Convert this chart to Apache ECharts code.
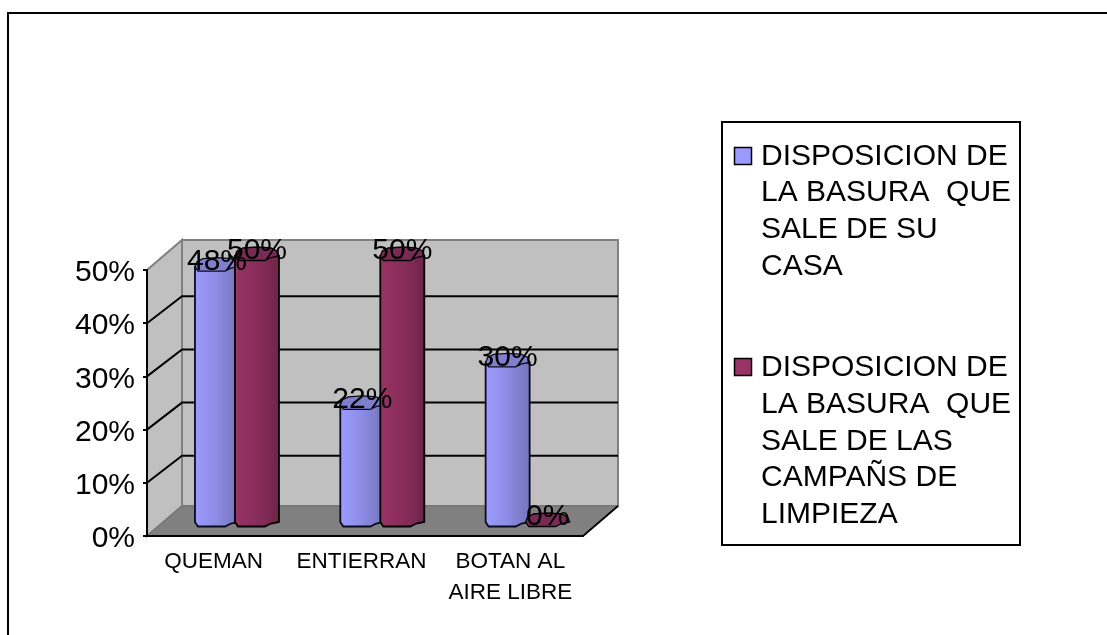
<!DOCTYPE html>
<html>
<head>
<meta charset="utf-8">
<style>html,body{margin:0;padding:0;background:#fff}#c{width:1107px;height:635px}</style>
<script src="https://cdn.jsdelivr.net/npm/echarts@6/dist/echarts.min.js"></script>
</head>
<body>
<div id="c"></div>
<script>
const categories = ['QUEMAN', 'ENTIERRAN', 'BOTAN AL\nAIRE LIBRE'];
const serieA = [0.48, 0.22, 0.30];
const serieB = [0.50, 0.50, 0.00];
const nombreA = 'DISPOSICION DE\nLA BASURA  QUE\nSALE DE SU\nCASA';
const nombreB = 'DISPOSICION DE\nLA BASURA  QUE\nSALE DE LAS\nCAMPAÑS DE\nLIMPIEZA';
const valueTicks = [0, 0.1, 0.2, 0.3, 0.4, 0.5];

const FONT = '"Liberation Sans", Arial, sans-serif';
const DX = 35, DY = -30;            // depth of the 3D box
const BAR_DX = 17.3, BAR_DY = -16;  // bars stand mid-depth
const HALF = 22, STEP = 20;

const frontEdge = [[-22, 2], [-19, 6.5], [8, 6.5], [14, 3.5], [22, 2]];
const backEdge = [[20, -3], [14, -6], [0, -7], [-14, -6], [-20, -3]];
const shifted = (pts, x, y) => pts.map(p => [x + p[0], y + p[1]]);

function wallItem(params, api) {
  const cs = params.coordSys;
  const l = cs.x, r = cs.x + cs.width, t = cs.y, b = cs.y + cs.height;
  const kids = [];
  if (params.dataIndex === 0) {
    kids.push({ type: 'polygon', shape: { points: [[l + DX, t + DY], [r + DX, t + DY], [r + DX, b + DY], [l + DX, b + DY]] },
      style: { fill: '#C0C0C0', stroke: '#808080', lineWidth: 2 } });
    kids.push({ type: 'polygon', shape: { points: [[l, t], [l + DX, t + DY], [l + DX, b + DY], [l, b]] },
      style: { fill: '#C0C0C0', stroke: '#808080', lineWidth: 2 } });
    kids.push({ type: 'polygon', shape: { points: [[l, b], [r, b], [r + DX, b + DY], [l + DX, b + DY]] },
      style: { fill: '#808080', stroke: '#707070', lineWidth: 1 } });
    kids.push({ type: 'line', shape: { x1: r, y1: b, x2: r + DX, y2: b + DY }, style: { stroke: '#000', lineWidth: 1.8 } });
  } else if (api.value(1) < 0.5) {
    const y = api.coord([0, api.value(1)])[1];
    kids.push({ type: 'polyline', shape: { points: [[l, y], [l + DX, y + DY + 3], [r + DX, y + DY + 3]] },
      style: { stroke: '#000', lineWidth: 2, fill: null } });
  }
  return { type: 'group', children: kids };
}

function cylinderRenderer(side, colorStops, topColor, edge) {
  return function (params, api) {
    const p = api.coord([api.value(0), api.value(1)]);
    const base = api.coord([api.value(0), 0]);
    const cx = p[0] + BAR_DX + side * STEP;
    const topY = p[1] + BAR_DY, baseY = base[1] + BAR_DY;
    const kids = [];
    if (api.value(1) > 0) {
      const top = [[cx - HALF, topY + 2], [cx + HALF, topY + 2]];
      const bottom = shifted(frontEdge, cx, baseY).reverse();
      kids.push({ type: 'polygon', shape: { points: top.concat(bottom) },
        style: { fill: { type: 'linear', x: 0, y: 0, x2: 1, y2: 0, colorStops: colorStops }, stroke: edge, lineWidth: 1.8 } });
    }
    kids.push({ type: 'polygon', shape: { points: shifted(frontEdge.concat(backEdge), cx, topY) },
      style: { fill: topColor, stroke: edge, lineWidth: 1.3 } });
    kids.push({ type: 'text', z2: 100, style: { text: Math.round(api.value(1) * 100) + '%', x: cx, y: topY - 3,
      align: 'center', verticalAlign: 'middle', fontSize: 30, fontFamily: FONT, fill: '#000' } });
    return { type: 'group', children: kids };
  };
}

const blueStops = [{ offset: 0, color: '#9C9CFF' }, { offset: 0.45, color: '#8E8EE8' }, { offset: 0.72, color: '#8080D0' }, { offset: 1, color: '#7474B8' }];
const redStops = [{ offset: 0, color: '#993366' }, { offset: 0.45, color: '#8A2E5C' }, { offset: 0.72, color: '#7E2A54' }, { offset: 1, color: '#6C2448' }];

function legendEntry(name, color, swatchY, textY) {
  return [
    { type: 'rect', shape: { x: 734.5, y: swatchY, width: 17, height: 17 }, style: { fill: color, stroke: '#000', lineWidth: 1.5 } },
    { type: 'text', x: 761, y: textY, style: { text: name, fontSize: 30, lineHeight: 36.7, fontFamily: FONT, fill: '#000', verticalAlign: 'top' } }
  ];
}

const catStyle = { fontSize: 22.5, fontFamily: FONT, color: '#000', lineHeight: 31 };
const chart = echarts.init(document.getElementById('c'), null, { renderer: 'canvas' });
chart.setOption({
  animation: false,
  backgroundColor: '#fff',
  grid: { left: 147, right: 524, top: 270, height: 266 },
  xAxis: {
    type: 'category', data: categories, z: 3,
    axisLine: { lineStyle: { color: '#000', width: 2 } },
    axisTick: { length: 4, lineStyle: { color: '#000', width: 2 } },
    axisLabel: Object.assign({}, catStyle, { margin: 10, interval: 0,
      formatter: (v, i) => i === 0 ? '{a|' + v + '}' : i === 1 ? '{b|' + v + '}' : v,
      rich: {
        a: Object.assign({}, catStyle, { padding: [0, 12, 0, 0] }),
        b: Object.assign({}, catStyle, { padding: [0, 7, 0, 0] })
      } })
  },
  yAxis: {
    type: 'value', min: 0, max: 0.5, interval: 0.1, z: 3,
    axisLine: { show: true, lineStyle: { color: '#000', width: 2 } },
    axisTick: { show: true, length: 4, lineStyle: { color: '#000', width: 2 } },
    splitLine: { show: false },
    axisLabel: { color: '#000', margin: 12, formatter: v => '{v|' + Math.round(v * 100) + '%}',
      rich: { v: { fontSize: 30, fontFamily: FONT, color: '#000', padding: [6, 0, 0, 0] } } }
  },
  series: [
    { type: 'custom', name: 'wall', z: 1, silent: true, coordinateSystem: 'cartesian2d',
      data: valueTicks.map(v => [0, v]), renderItem: wallItem, clip: false },
    { type: 'custom', name: nombreA, z: 2, coordinateSystem: 'cartesian2d', clip: false,
      data: serieA.map((v, i) => [i, v]), encode: { x: 0, y: 1 }, renderItem: cylinderRenderer(-1, blueStops, '#7F7FCC', '#0A0A20') },
    { type: 'custom', name: nombreB, z: 2, coordinateSystem: 'cartesian2d', clip: false,
      data: serieB.map((v, i) => [i, v]), encode: { x: 0, y: 1 }, renderItem: cylinderRenderer(1, redStops, '#7A2B55', '#000') }
  ],
  graphic: [
    { type: 'polyline', shape: { points: [[8, 635], [8, 13], [1107, 13]] }, style: { stroke: '#000', lineWidth: 2, fill: null } },
    { type: 'rect', shape: { x: 722, y: 122, width: 298, height: 423 }, style: { fill: '#fff', stroke: '#000', lineWidth: 2 } }
  ].concat(legendEntry(nombreA, '#9999FF', 147.5, 138), legendEntry(nombreB, '#993366', 358.5, 349.5))
});
</script>
</body>
</html>
